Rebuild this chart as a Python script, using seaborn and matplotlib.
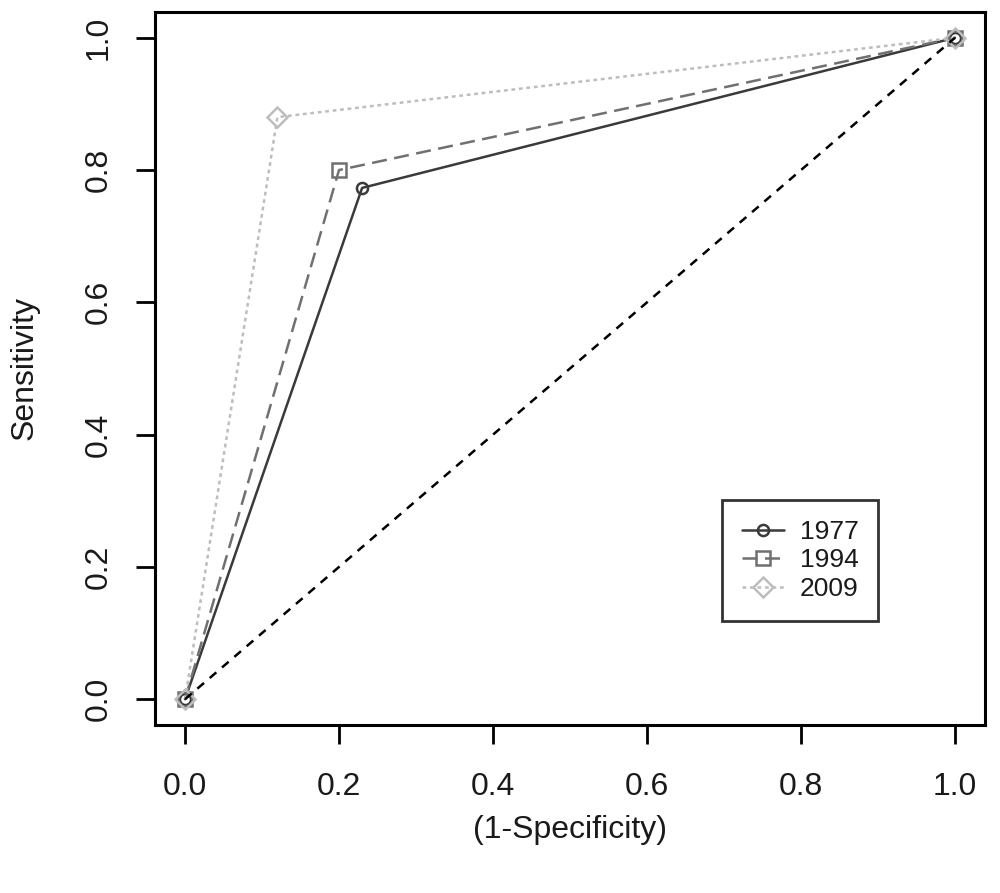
import matplotlib
matplotlib.use("Agg")
import matplotlib.pyplot as plt
import seaborn as sns
import pandas as pd

# data
fpr_1977 = [0.0, 0.23, 1.0]
tpr_1977 = [0.0, 0.773, 1.0]
fpr_1994 = [0.0, 0.20, 1.0]
tpr_1994 = [0.0, 0.80, 1.0]
fpr_2009 = [0.0, 0.12, 1.0]
tpr_2009 = [0.0, 0.88, 1.0]
diag = [0.0, 1.0]
ticks = [0.0, 0.2, 0.4, 0.6, 0.8, 1.0]

sns.set_theme(style="ticks")
plt.rcParams['font.family'] = ['Liberation Sans', 'DejaVu Sans']
plt.rcParams['text.color'] = '#1a1a1a'
plt.rcParams['xtick.labelcolor'] = '#1a1a1a'
plt.rcParams['ytick.labelcolor'] = '#1a1a1a'
plt.rcParams['axes.labelcolor'] = '#1a1a1a'

fig = plt.figure(figsize=(10, 8.93), dpi=100)
ax = fig.add_axes([0.155, 0.1881, 0.83, 0.7985])

series = [
    ("1977", fpr_1977, tpr_1977, "#3a3a3a", "-", "o", 8),
    ("1994", fpr_1994, tpr_1994, "#707070", (0, (6, 3)), "s", 10),
    ("2009", fpr_2009, tpr_2009, "#bdbdbd", (0, (1.5, 1.5)), "D", 10),
]
for lab, x, y, col, ls, mk, ms in series:
    df = pd.DataFrame({"x": x, "y": y})
    sns.lineplot(data=df, x="x", y="y", ax=ax, color=col, linestyle=ls, lw=1.8,
                 marker=mk, markersize=ms, markerfacecolor="none",
                 markeredgecolor=col, markeredgewidth=1.8, label=lab, sort=False)

sns.lineplot(x=diag, y=diag, ax=ax, color="black", linestyle=(0, (3.5, 3)), lw=1.8)

ax.set_xlim(-0.039, 1.039)
ax.set_ylim(-0.039, 1.039)
ax.set_xticks(ticks)
ax.set_yticks(ticks)
ax.set_xticklabels([f"{t:.1f}" for t in ticks], fontsize=23)
ax.set_yticklabels([f"{t:.1f}" for t in ticks], fontsize=23, rotation=90, va="center")
ax.tick_params(axis="both", direction="out", length=14, width=2, color="black")
ax.tick_params(axis="x", pad=20)
ax.tick_params(axis="y", pad=16)
for s in ax.spines.values():
    s.set_linewidth(2.2)
    s.set_color("black")

ax.set_xlabel("(1-Specificity)", fontsize=23, va="center")
ax.set_ylabel("Sensitivity", fontsize=23, va="center")
ax.xaxis.set_label_coords(0.5, -0.147)
ax.yaxis.set_label_coords(-0.1566, 0.5)

leg = ax.legend(loc="upper left", bbox_to_anchor=(0.683, 0.3156), fontsize=19,
                frameon=True, fancybox=False, edgecolor="black", handlelength=1.6,
                labelspacing=0.17, borderpad=0.75, handletextpad=0.6, borderaxespad=0)
leg.get_frame().set_linewidth(2)

fig.savefig("out.png", dpi=100, facecolor="white")
